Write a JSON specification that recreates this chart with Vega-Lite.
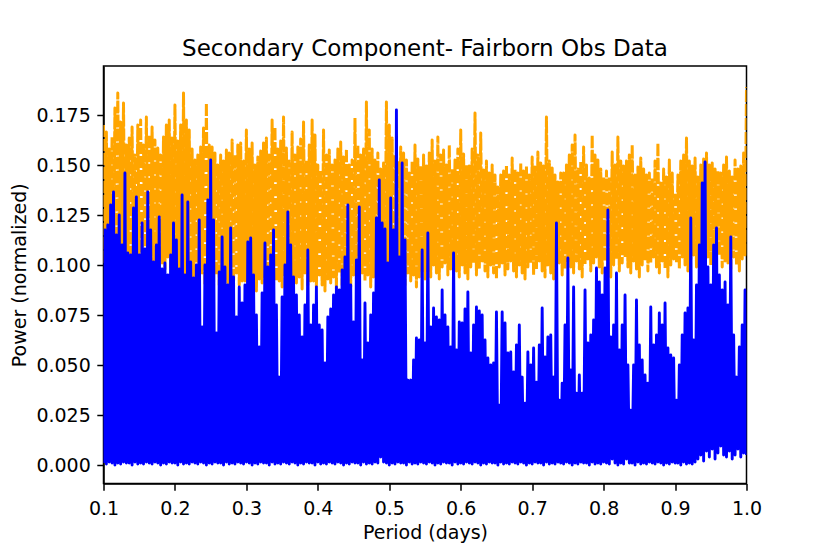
{
  "$schema": "https://vega.github.io/schema/vega-lite/v6.json",
  "width": 643,
  "height": 417.5,
  "autosize": "none",
  "padding": {"left": 103.5, "top": 66, "right": 83.5, "bottom": 70.5},
  "title": {
    "text": "Secondary Component- Fairborn Obs Data",
    "fontSize": 23,
    "fontWeight": "normal",
    "font": "DejaVu Sans",
    "color": "black",
    "anchor": "middle",
    "frame": "group",
    "baseline": "alphabetic",
    "offset": 11,
    "dy": 24
  },
  "datasets": {
    "blue": [
      {"p":0.100,"v":0.001},{"p":0.102,"v":0.1175},
      {"p":0.104,"v":0.0005},{"p":0.106,"v":0.12},
      {"p":0.108,"v":0.0015},{"p":0.110,"v":0.13},
      {"p":0.112,"v":0.001},{"p":0.114,"v":0.1365},
      {"p":0.116,"v":0.0},{"p":0.118,"v":0.115},
      {"p":0.120,"v":0.001},{"p":0.122,"v":0.125},
      {"p":0.124,"v":0.0005},{"p":0.126,"v":0.11},
      {"p":0.128,"v":0.0015},{"p":0.130,"v":0.146},
      {"p":0.132,"v":0.001},{"p":0.134,"v":0.106},
      {"p":0.136,"v":0.001},{"p":0.138,"v":0.105},
      {"p":0.140,"v":0.0},{"p":0.142,"v":0.1285},
      {"p":0.144,"v":0.0015},{"p":0.146,"v":0.134},
      {"p":0.148,"v":0.0005},{"p":0.150,"v":0.105},
      {"p":0.152,"v":0.001},{"p":0.154,"v":0.121},
      {"p":0.156,"v":0.0005},{"p":0.158,"v":0.108},
      {"p":0.160,"v":0.0015},{"p":0.162,"v":0.1365},
      {"p":0.164,"v":0.001},{"p":0.166,"v":0.1175},
      {"p":0.168,"v":0.0005},{"p":0.170,"v":0.1015},
      {"p":0.172,"v":0.0015},{"p":0.174,"v":0.11},
      {"p":0.176,"v":0.001},{"p":0.178,"v":0.124},
      {"p":0.180,"v":0.0},{"p":0.182,"v":0.098},
      {"p":0.184,"v":0.001},{"p":0.186,"v":0.101},
      {"p":0.188,"v":0.0005},{"p":0.190,"v":0.095},
      {"p":0.192,"v":0.0015},{"p":0.194,"v":0.105},
      {"p":0.196,"v":0.001},{"p":0.198,"v":0.121},
      {"p":0.200,"v":0.001},{"p":0.202,"v":0.1125},
      {"p":0.204,"v":0.0},{"p":0.206,"v":0.098},
      {"p":0.208,"v":0.0015},{"p":0.210,"v":0.135},
      {"p":0.212,"v":0.0005},{"p":0.214,"v":0.095},
      {"p":0.216,"v":0.001},{"p":0.218,"v":0.1315},
      {"p":0.220,"v":0.0005},{"p":0.222,"v":0.1015},
      {"p":0.224,"v":0.0015},{"p":0.226,"v":0.0935},
      {"p":0.228,"v":0.001},{"p":0.230,"v":0.1},
      {"p":0.232,"v":0.0005},{"p":0.234,"v":0.1225},
      {"p":0.236,"v":0.0015},{"p":0.238,"v":0.069},
      {"p":0.240,"v":0.001},{"p":0.242,"v":0.1},
      {"p":0.244,"v":0.0},{"p":0.246,"v":0.1325},
      {"p":0.248,"v":0.001},{"p":0.250,"v":0.1525},
      {"p":0.252,"v":0.0005},{"p":0.254,"v":0.1225},
      {"p":0.256,"v":0.0015},{"p":0.258,"v":0.066},
      {"p":0.260,"v":0.001},{"p":0.262,"v":0.0965},
      {"p":0.264,"v":0.001},{"p":0.266,"v":0.114},
      {"p":0.268,"v":0.0},{"p":0.270,"v":0.099},
      {"p":0.272,"v":0.0015},{"p":0.274,"v":0.09},
      {"p":0.276,"v":0.0005},{"p":0.278,"v":0.1185},
      {"p":0.280,"v":0.001},{"p":0.282,"v":0.094},
      {"p":0.284,"v":0.0005},{"p":0.286,"v":0.074},
      {"p":0.288,"v":0.0015},{"p":0.290,"v":0.089},
      {"p":0.292,"v":0.001},{"p":0.294,"v":0.081},
      {"p":0.296,"v":0.0005},{"p":0.298,"v":0.09},
      {"p":0.300,"v":0.0015},{"p":0.302,"v":0.1115},
      {"p":0.304,"v":0.001},{"p":0.306,"v":0.1135},
      {"p":0.308,"v":0.0},{"p":0.310,"v":0.095},
      {"p":0.312,"v":0.001},{"p":0.314,"v":0.075},
      {"p":0.316,"v":0.0005},{"p":0.318,"v":0.059},
      {"p":0.320,"v":0.0015},{"p":0.322,"v":0.086},
      {"p":0.324,"v":0.001},{"p":0.326,"v":0.111},
      {"p":0.328,"v":0.001},{"p":0.330,"v":0.099},
      {"p":0.332,"v":0.0},{"p":0.334,"v":0.105},
      {"p":0.336,"v":0.0015},{"p":0.338,"v":0.1175},
      {"p":0.340,"v":0.0005},{"p":0.342,"v":0.08},
      {"p":0.344,"v":0.001},{"p":0.346,"v":0.044},
      {"p":0.348,"v":0.0005},{"p":0.350,"v":0.084},
      {"p":0.352,"v":0.0015},{"p":0.354,"v":0.1},
      {"p":0.356,"v":0.001},{"p":0.358,"v":0.1265},
      {"p":0.360,"v":0.0005},{"p":0.362,"v":0.11},
      {"p":0.364,"v":0.0015},{"p":0.366,"v":0.094},
      {"p":0.368,"v":0.001},{"p":0.370,"v":0.085},
      {"p":0.372,"v":0.0},{"p":0.374,"v":0.075},
      {"p":0.376,"v":0.001},{"p":0.378,"v":0.064},
      {"p":0.380,"v":0.0005},{"p":0.382,"v":0.08},
      {"p":0.384,"v":0.0015},{"p":0.386,"v":0.1075},
      {"p":0.388,"v":0.001},{"p":0.390,"v":0.07},
      {"p":0.392,"v":0.001},{"p":0.394,"v":0.08},
      {"p":0.396,"v":0.0},{"p":0.398,"v":0.089},
      {"p":0.400,"v":0.0015},{"p":0.402,"v":0.07},
      {"p":0.404,"v":0.0005},{"p":0.406,"v":0.0675},
      {"p":0.408,"v":0.001},{"p":0.410,"v":0.051},
      {"p":0.412,"v":0.0005},{"p":0.414,"v":0.074},
      {"p":0.416,"v":0.0015},{"p":0.418,"v":0.078},
      {"p":0.420,"v":0.001},{"p":0.422,"v":0.085},
      {"p":0.424,"v":0.0005},{"p":0.426,"v":0.089},
      {"p":0.428,"v":0.0015},{"p":0.430,"v":0.0875},
      {"p":0.432,"v":0.001},{"p":0.434,"v":0.0975},
      {"p":0.436,"v":0.0},{"p":0.438,"v":0.104},
      {"p":0.440,"v":0.001},{"p":0.442,"v":0.13},
      {"p":0.444,"v":0.0005},{"p":0.446,"v":0.09},
      {"p":0.448,"v":0.0015},{"p":0.450,"v":0.0715},
      {"p":0.452,"v":0.001},{"p":0.454,"v":0.1025},
      {"p":0.456,"v":0.001},{"p":0.458,"v":0.129},
      {"p":0.460,"v":0.0},{"p":0.462,"v":0.0525},
      {"p":0.464,"v":0.0015},{"p":0.466,"v":0.081},
      {"p":0.468,"v":0.0005},{"p":0.470,"v":0.061},
      {"p":0.472,"v":0.001},{"p":0.474,"v":0.075},
      {"p":0.476,"v":0.0005},{"p":0.478,"v":0.086},
      {"p":0.480,"v":0.0015},{"p":0.482,"v":0.1235},
      {"p":0.484,"v":0.001},{"p":0.486,"v":0.1425},
      {"p":0.488,"v":0.004},{"p":0.490,"v":0.121},
      {"p":0.492,"v":0.0015},{"p":0.494,"v":0.118},
      {"p":0.496,"v":0.001},{"p":0.498,"v":0.101},
      {"p":0.500,"v":0.0},{"p":0.502,"v":0.1335},
      {"p":0.504,"v":0.001},{"p":0.506,"v":0.1175},
      {"p":0.508,"v":0.0005},{"p":0.510,"v":0.1775},
      {"p":0.512,"v":0.0015},{"p":0.514,"v":0.104},
      {"p":0.516,"v":0.001},{"p":0.518,"v":0.151},
      {"p":0.520,"v":0.001},{"p":0.522,"v":0.1125},
      {"p":0.524,"v":0.0},{"p":0.526,"v":0.0425},
      {"p":0.528,"v":0.0015},{"p":0.530,"v":0.0425},
      {"p":0.532,"v":0.0005},{"p":0.534,"v":0.0525},
      {"p":0.536,"v":0.001},{"p":0.538,"v":0.0635},
      {"p":0.540,"v":0.0005},{"p":0.542,"v":0.0625},
      {"p":0.544,"v":0.0015},{"p":0.546,"v":0.1075},
      {"p":0.548,"v":0.001},{"p":0.550,"v":0.061},
      {"p":0.552,"v":0.0005},{"p":0.554,"v":0.116},
      {"p":0.556,"v":0.0015},{"p":0.558,"v":0.069},
      {"p":0.560,"v":0.001},{"p":0.562,"v":0.0785},
      {"p":0.564,"v":0.0},{"p":0.566,"v":0.074},
      {"p":0.568,"v":0.001},{"p":0.570,"v":0.0725},
      {"p":0.572,"v":0.0005},{"p":0.574,"v":0.0875},
      {"p":0.576,"v":0.0015},{"p":0.578,"v":0.075},
      {"p":0.580,"v":0.001},{"p":0.582,"v":0.069},
      {"p":0.584,"v":0.001},{"p":0.586,"v":0.059},
      {"p":0.588,"v":0.0},{"p":0.590,"v":0.106},
      {"p":0.592,"v":0.0015},{"p":0.594,"v":0.0575},
      {"p":0.596,"v":0.0005},{"p":0.598,"v":0.0715},
      {"p":0.600,"v":0.001},{"p":0.602,"v":0.071},
      {"p":0.604,"v":0.0005},{"p":0.606,"v":0.078},
      {"p":0.608,"v":0.0015},{"p":0.610,"v":0.0865},
      {"p":0.612,"v":0.001},{"p":0.614,"v":0.056},
      {"p":0.616,"v":0.0005},{"p":0.618,"v":0.07},
      {"p":0.620,"v":0.0015},{"p":0.622,"v":0.079},
      {"p":0.624,"v":0.001},{"p":0.626,"v":0.077},
      {"p":0.628,"v":0.0},{"p":0.630,"v":0.075},
      {"p":0.632,"v":0.001},{"p":0.634,"v":0.0625},
      {"p":0.636,"v":0.0005},{"p":0.638,"v":0.0535},
      {"p":0.640,"v":0.0015},{"p":0.642,"v":0.05},
      {"p":0.644,"v":0.001},{"p":0.646,"v":0.051},
      {"p":0.648,"v":0.001},{"p":0.650,"v":0.0765},
      {"p":0.652,"v":0.0},{"p":0.654,"v":0.03},
      {"p":0.656,"v":0.0015},{"p":0.658,"v":0.0765},
      {"p":0.660,"v":0.0005},{"p":0.662,"v":0.071},
      {"p":0.664,"v":0.001},{"p":0.666,"v":0.056},
      {"p":0.668,"v":0.0005},{"p":0.670,"v":0.0565},
      {"p":0.672,"v":0.0015},{"p":0.674,"v":0.0465},
      {"p":0.676,"v":0.001},{"p":0.678,"v":0.06},
      {"p":0.680,"v":0.0005},{"p":0.682,"v":0.07},
      {"p":0.684,"v":0.0015},{"p":0.686,"v":0.044},
      {"p":0.688,"v":0.001},{"p":0.690,"v":0.031},
      {"p":0.692,"v":0.0},{"p":0.694,"v":0.0565},
      {"p":0.696,"v":0.001},{"p":0.698,"v":0.05},
      {"p":0.700,"v":0.0005},{"p":0.702,"v":0.0585},
      {"p":0.704,"v":0.0015},{"p":0.706,"v":0.0415},
      {"p":0.708,"v":0.001},{"p":0.710,"v":0.06},
      {"p":0.712,"v":0.001},{"p":0.714,"v":0.0785},
      {"p":0.716,"v":0.0},{"p":0.718,"v":0.054},
      {"p":0.720,"v":0.0015},{"p":0.722,"v":0.064},
      {"p":0.724,"v":0.0005},{"p":0.726,"v":0.065},
      {"p":0.728,"v":0.001},{"p":0.730,"v":0.044},
      {"p":0.732,"v":0.0005},{"p":0.734,"v":0.121},
      {"p":0.736,"v":0.0015},{"p":0.738,"v":0.0325},
      {"p":0.740,"v":0.001},{"p":0.742,"v":0.041},
      {"p":0.744,"v":0.0005},{"p":0.746,"v":0.07},
      {"p":0.748,"v":0.0015},{"p":0.750,"v":0.1035},
      {"p":0.752,"v":0.001},{"p":0.754,"v":0.0475},
      {"p":0.756,"v":0.0},{"p":0.758,"v":0.089},
      {"p":0.760,"v":0.001},{"p":0.762,"v":0.036},
      {"p":0.764,"v":0.0005},{"p":0.766,"v":0.045},
      {"p":0.768,"v":0.0015},{"p":0.770,"v":0.036},
      {"p":0.772,"v":0.001},{"p":0.774,"v":0.0875},
      {"p":0.776,"v":0.001},{"p":0.778,"v":0.061},
      {"p":0.780,"v":0.0},{"p":0.782,"v":0.065},
      {"p":0.784,"v":0.0015},{"p":0.786,"v":0.0725},
      {"p":0.788,"v":0.0005},{"p":0.790,"v":0.0985},
      {"p":0.792,"v":0.001},{"p":0.794,"v":0.0915},
      {"p":0.796,"v":0.0005},{"p":0.798,"v":0.085},
      {"p":0.800,"v":0.0015},{"p":0.802,"v":0.0985},
      {"p":0.804,"v":0.001},{"p":0.806,"v":0.1275},
      {"p":0.808,"v":0.0005},{"p":0.810,"v":0.064},
      {"p":0.812,"v":0.003},{"p":0.814,"v":0.07},
      {"p":0.816,"v":0.001},{"p":0.818,"v":0.096},
      {"p":0.820,"v":0.0},{"p":0.822,"v":0.0575},
      {"p":0.824,"v":0.001},{"p":0.826,"v":0.07},
      {"p":0.828,"v":0.0005},{"p":0.830,"v":0.085},
      {"p":0.832,"v":0.003},{"p":0.834,"v":0.05},
      {"p":0.836,"v":0.001},{"p":0.838,"v":0.0275},
      {"p":0.840,"v":0.001},{"p":0.842,"v":0.05},
      {"p":0.844,"v":0.0},{"p":0.846,"v":0.0825},
      {"p":0.848,"v":0.0015},{"p":0.850,"v":0.06},
      {"p":0.852,"v":0.0005},{"p":0.854,"v":0.0525},
      {"p":0.856,"v":0.001},{"p":0.858,"v":0.045},
      {"p":0.860,"v":0.0005},{"p":0.862,"v":0.041},
      {"p":0.864,"v":0.0015},{"p":0.866,"v":0.079},
      {"p":0.868,"v":0.001},{"p":0.870,"v":0.06},
      {"p":0.872,"v":0.0005},{"p":0.874,"v":0.065},
      {"p":0.876,"v":0.0015},{"p":0.878,"v":0.076},
      {"p":0.880,"v":0.001},{"p":0.882,"v":0.07},
      {"p":0.884,"v":0.0},{"p":0.886,"v":0.081},
      {"p":0.888,"v":0.001},{"p":0.890,"v":0.0585},
      {"p":0.892,"v":0.0005},{"p":0.894,"v":0.055},
      {"p":0.896,"v":0.0015},{"p":0.898,"v":0.0535},
      {"p":0.900,"v":0.001},{"p":0.902,"v":0.0325},
      {"p":0.904,"v":0.001},{"p":0.906,"v":0.05},
      {"p":0.908,"v":0.0},{"p":0.910,"v":0.065},
      {"p":0.912,"v":0.0015},{"p":0.914,"v":0.076},
      {"p":0.916,"v":0.0005},{"p":0.918,"v":0.0785},
      {"p":0.920,"v":0.001},{"p":0.922,"v":0.1235},
      {"p":0.924,"v":0.0005},{"p":0.926,"v":0.0625},
      {"p":0.928,"v":0.0015},{"p":0.930,"v":0.09},
      {"p":0.932,"v":0.003},{"p":0.934,"v":0.11},
      {"p":0.936,"v":0.005},{"p":0.938,"v":0.141},
      {"p":0.940,"v":0.002},{"p":0.942,"v":0.1515},
      {"p":0.944,"v":0.007},{"p":0.946,"v":0.099},
      {"p":0.948,"v":0.004},{"p":0.950,"v":0.09},
      {"p":0.952,"v":0.008},{"p":0.954,"v":0.11},
      {"p":0.956,"v":0.003},{"p":0.958,"v":0.1185},
      {"p":0.960,"v":0.006},{"p":0.962,"v":0.095},
      {"p":0.964,"v":0.0095},{"p":0.966,"v":0.0875},
      {"p":0.968,"v":0.005},{"p":0.970,"v":0.0915},
      {"p":0.972,"v":0.004},{"p":0.974,"v":0.08},
      {"p":0.976,"v":0.007},{"p":0.978,"v":0.114},
      {"p":0.980,"v":0.003},{"p":0.982,"v":0.065},
      {"p":0.984,"v":0.005},{"p":0.986,"v":0.044},
      {"p":0.988,"v":0.008},{"p":0.990,"v":0.059},
      {"p":0.992,"v":0.004},{"p":0.994,"v":0.07},
      {"p":0.996,"v":0.006},{"p":0.998,"v":0.0875},
      {"p":1.000,"v":0.005}
    ],
    "orange": [
      {"p":0.100,"v":0.17},{"p":0.102,"v":0.101},
      {"p":0.104,"v":0.1665},{"p":0.106,"v":0.098},
      {"p":0.108,"v":0.158},{"p":0.110,"v":0.104},
      {"p":0.112,"v":0.164},{"p":0.114,"v":0.099},
      {"p":0.116,"v":0.1785},{"p":0.118,"v":0.102},
      {"p":0.120,"v":0.186},{"p":0.122,"v":0.097},
      {"p":0.124,"v":0.1715},{"p":0.126,"v":0.105},
      {"p":0.128,"v":0.181},{"p":0.130,"v":0.1},
      {"p":0.132,"v":0.16},{"p":0.134,"v":0.099},
      {"p":0.136,"v":0.1635},{"p":0.138,"v":0.103},
      {"p":0.140,"v":0.169},{"p":0.142,"v":0.101},
      {"p":0.144,"v":0.155},{"p":0.146,"v":0.098},
      {"p":0.148,"v":0.17},{"p":0.150,"v":0.104},
      {"p":0.152,"v":0.1725},{"p":0.154,"v":0.099},
      {"p":0.156,"v":0.16},{"p":0.158,"v":0.102},
      {"p":0.160,"v":0.174},{"p":0.162,"v":0.097},
      {"p":0.164,"v":0.165},{"p":0.166,"v":0.105},
      {"p":0.168,"v":0.169},{"p":0.170,"v":0.1},
      {"p":0.172,"v":0.1625},{"p":0.174,"v":0.099},
      {"p":0.176,"v":0.1585},{"p":0.178,"v":0.103},
      {"p":0.180,"v":0.155},{"p":0.182,"v":0.101},
      {"p":0.184,"v":0.164},{"p":0.186,"v":0.098},
      {"p":0.188,"v":0.17},{"p":0.190,"v":0.104},
      {"p":0.192,"v":0.1725},{"p":0.194,"v":0.099},
      {"p":0.196,"v":0.1635},{"p":0.198,"v":0.102},
      {"p":0.200,"v":0.18},{"p":0.202,"v":0.092},
      {"p":0.204,"v":0.162},{"p":0.206,"v":0.089},
      {"p":0.208,"v":0.17},{"p":0.210,"v":0.095},
      {"p":0.212,"v":0.186},{"p":0.214,"v":0.09},
      {"p":0.216,"v":0.1725},{"p":0.218,"v":0.087},
      {"p":0.220,"v":0.1675},{"p":0.222,"v":0.093},
      {"p":0.224,"v":0.158},{"p":0.226,"v":0.091},
      {"p":0.228,"v":0.1525},{"p":0.230,"v":0.094},
      {"p":0.232,"v":0.155},{"p":0.234,"v":0.088},
      {"p":0.236,"v":0.159},{"p":0.238,"v":0.096},
      {"p":0.240,"v":0.1685},{"p":0.242,"v":0.09},
      {"p":0.244,"v":0.181},{"p":0.246,"v":0.092},
      {"p":0.248,"v":0.16},{"p":0.250,"v":0.092},
      {"p":0.252,"v":0.159},{"p":0.254,"v":0.089},
      {"p":0.256,"v":0.156},{"p":0.258,"v":0.095},
      {"p":0.260,"v":0.15},{"p":0.262,"v":0.09},
      {"p":0.264,"v":0.155},{"p":0.266,"v":0.087},
      {"p":0.268,"v":0.152},{"p":0.270,"v":0.093},
      {"p":0.272,"v":0.1575},{"p":0.274,"v":0.091},
      {"p":0.276,"v":0.156},{"p":0.278,"v":0.094},
      {"p":0.280,"v":0.1625},{"p":0.282,"v":0.088},
      {"p":0.284,"v":0.155},{"p":0.286,"v":0.096},
      {"p":0.288,"v":0.16},{"p":0.290,"v":0.09},
      {"p":0.292,"v":0.161},{"p":0.294,"v":0.092},
      {"p":0.296,"v":0.152},{"p":0.298,"v":0.092},
      {"p":0.300,"v":0.1675},{"p":0.302,"v":0.089},
      {"p":0.304,"v":0.158},{"p":0.306,"v":0.095},
      {"p":0.308,"v":0.161},{"p":0.310,"v":0.09},
      {"p":0.312,"v":0.15},{"p":0.314,"v":0.087},
      {"p":0.316,"v":0.154},{"p":0.318,"v":0.093},
      {"p":0.320,"v":0.157},{"p":0.322,"v":0.091},
      {"p":0.324,"v":0.161},{"p":0.326,"v":0.094},
      {"p":0.328,"v":0.1635},{"p":0.330,"v":0.088},
      {"p":0.332,"v":0.155},{"p":0.334,"v":0.096},
      {"p":0.336,"v":0.1725},{"p":0.338,"v":0.09},
      {"p":0.340,"v":0.169},{"p":0.342,"v":0.092},
      {"p":0.344,"v":0.158},{"p":0.346,"v":0.092},
      {"p":0.348,"v":0.162},{"p":0.350,"v":0.089},
      {"p":0.352,"v":0.174},{"p":0.354,"v":0.095},
      {"p":0.356,"v":0.1585},{"p":0.358,"v":0.09},
      {"p":0.360,"v":0.152},{"p":0.362,"v":0.087},
      {"p":0.364,"v":0.1665},{"p":0.366,"v":0.093},
      {"p":0.368,"v":0.155},{"p":0.370,"v":0.091},
      {"p":0.372,"v":0.159},{"p":0.374,"v":0.094},
      {"p":0.376,"v":0.163},{"p":0.378,"v":0.088},
      {"p":0.380,"v":0.1715},{"p":0.382,"v":0.096},
      {"p":0.384,"v":0.1525},{"p":0.386,"v":0.09},
      {"p":0.388,"v":0.16},{"p":0.390,"v":0.092},
      {"p":0.392,"v":0.1725},{"p":0.394,"v":0.092},
      {"p":0.396,"v":0.165},{"p":0.398,"v":0.089},
      {"p":0.400,"v":0.15},{"p":0.402,"v":0.095},
      {"p":0.404,"v":0.1475},{"p":0.406,"v":0.09},
      {"p":0.408,"v":0.1675},{"p":0.410,"v":0.087},
      {"p":0.412,"v":0.155},{"p":0.414,"v":0.093},
      {"p":0.416,"v":0.1575},{"p":0.418,"v":0.091},
      {"p":0.420,"v":0.15},{"p":0.422,"v":0.094},
      {"p":0.424,"v":0.1525},{"p":0.426,"v":0.088},
      {"p":0.428,"v":0.158},{"p":0.430,"v":0.096},
      {"p":0.432,"v":0.1615},{"p":0.434,"v":0.09},
      {"p":0.436,"v":0.154},{"p":0.438,"v":0.092},
      {"p":0.440,"v":0.158},{"p":0.442,"v":0.092},
      {"p":0.444,"v":0.15},{"p":0.446,"v":0.089},
      {"p":0.448,"v":0.1525},{"p":0.450,"v":0.095},
      {"p":0.452,"v":0.1735},{"p":0.454,"v":0.093},
      {"p":0.456,"v":0.16},{"p":0.458,"v":0.09},
      {"p":0.460,"v":0.155},{"p":0.462,"v":0.096},
      {"p":0.464,"v":0.158},{"p":0.466,"v":0.092},
      {"p":0.468,"v":0.1815},{"p":0.470,"v":0.095},
      {"p":0.472,"v":0.1675},{"p":0.474,"v":0.089},
      {"p":0.476,"v":0.158},{"p":0.478,"v":0.094},
      {"p":0.480,"v":0.1525},{"p":0.482,"v":0.097},
      {"p":0.484,"v":0.156},{"p":0.486,"v":0.093},
      {"p":0.488,"v":0.148},{"p":0.490,"v":0.09},
      {"p":0.492,"v":0.151},{"p":0.494,"v":0.096},
      {"p":0.496,"v":0.1815},{"p":0.498,"v":0.092},
      {"p":0.500,"v":0.17},{"p":0.502,"v":0.095},
      {"p":0.504,"v":0.1635},{"p":0.506,"v":0.089},
      {"p":0.508,"v":0.155},{"p":0.510,"v":0.094},
      {"p":0.512,"v":0.152},{"p":0.514,"v":0.097},
      {"p":0.516,"v":0.159},{"p":0.518,"v":0.093},
      {"p":0.520,"v":0.156},{"p":0.522,"v":0.09},
      {"p":0.524,"v":0.1525},{"p":0.526,"v":0.096},
      {"p":0.528,"v":0.146},{"p":0.530,"v":0.092},
      {"p":0.532,"v":0.152},{"p":0.534,"v":0.095},
      {"p":0.536,"v":0.16},{"p":0.538,"v":0.089},
      {"p":0.540,"v":0.153},{"p":0.542,"v":0.094},
      {"p":0.544,"v":0.1495},{"p":0.546,"v":0.097},
      {"p":0.548,"v":0.155},{"p":0.550,"v":0.093},
      {"p":0.552,"v":0.1495},{"p":0.554,"v":0.097},
      {"p":0.556,"v":0.156},{"p":0.558,"v":0.094},
      {"p":0.560,"v":0.1625},{"p":0.562,"v":0.1},
      {"p":0.564,"v":0.152},{"p":0.566,"v":0.096},
      {"p":0.568,"v":0.164},{"p":0.570,"v":0.093},
      {"p":0.572,"v":0.155},{"p":0.574,"v":0.099},
      {"p":0.576,"v":0.1575},{"p":0.578,"v":0.101},
      {"p":0.580,"v":0.15},{"p":0.582,"v":0.095},
      {"p":0.584,"v":0.16},{"p":0.586,"v":0.098},
      {"p":0.588,"v":0.148},{"p":0.590,"v":0.102},
      {"p":0.592,"v":0.1525},{"p":0.594,"v":0.097},
      {"p":0.596,"v":0.158},{"p":0.598,"v":0.094},
      {"p":0.600,"v":0.1675},{"p":0.602,"v":0.1},
      {"p":0.604,"v":0.1555},{"p":0.606,"v":0.096},
      {"p":0.608,"v":0.15},{"p":0.610,"v":0.093},
      {"p":0.612,"v":0.1495},{"p":0.614,"v":0.099},
      {"p":0.616,"v":0.158},{"p":0.618,"v":0.101},
      {"p":0.620,"v":0.176},{"p":0.622,"v":0.095},
      {"p":0.624,"v":0.155},{"p":0.626,"v":0.098},
      {"p":0.628,"v":0.166},{"p":0.630,"v":0.102},
      {"p":0.632,"v":0.1475},{"p":0.634,"v":0.097},
      {"p":0.636,"v":0.152},{"p":0.638,"v":0.094},
      {"p":0.640,"v":0.146},{"p":0.642,"v":0.1},
      {"p":0.644,"v":0.15},{"p":0.646,"v":0.096},
      {"p":0.648,"v":0.145},{"p":0.650,"v":0.093},
      {"p":0.652,"v":0.139},{"p":0.654,"v":0.099},
      {"p":0.656,"v":0.145},{"p":0.658,"v":0.101},
      {"p":0.660,"v":0.147},{"p":0.662,"v":0.095},
      {"p":0.664,"v":0.15},{"p":0.666,"v":0.098},
      {"p":0.668,"v":0.145},{"p":0.670,"v":0.102},
      {"p":0.672,"v":0.1535},{"p":0.674,"v":0.097},
      {"p":0.676,"v":0.148},{"p":0.678,"v":0.094},
      {"p":0.680,"v":0.146},{"p":0.682,"v":0.1},
      {"p":0.684,"v":0.151},{"p":0.686,"v":0.096},
      {"p":0.688,"v":0.147},{"p":0.690,"v":0.093},
      {"p":0.692,"v":0.1495},{"p":0.694,"v":0.099},
      {"p":0.696,"v":0.145},{"p":0.698,"v":0.101},
      {"p":0.700,"v":0.154},{"p":0.702,"v":0.095},
      {"p":0.704,"v":0.149},{"p":0.706,"v":0.098},
      {"p":0.708,"v":0.1565},{"p":0.710,"v":0.102},
      {"p":0.712,"v":0.151},{"p":0.714,"v":0.097},
      {"p":0.716,"v":0.1495},{"p":0.718,"v":0.094},
      {"p":0.720,"v":0.174},{"p":0.722,"v":0.1},
      {"p":0.724,"v":0.152},{"p":0.726,"v":0.096},
      {"p":0.728,"v":0.1485},{"p":0.730,"v":0.093},
      {"p":0.732,"v":0.145},{"p":0.734,"v":0.099},
      {"p":0.736,"v":0.1415},{"p":0.738,"v":0.101},
      {"p":0.740,"v":0.146},{"p":0.742,"v":0.095},
      {"p":0.744,"v":0.146},{"p":0.746,"v":0.098},
      {"p":0.748,"v":0.15},{"p":0.750,"v":0.102},
      {"p":0.752,"v":0.155},{"p":0.754,"v":0.099},
      {"p":0.756,"v":0.16},{"p":0.758,"v":0.096},
      {"p":0.760,"v":0.165},{"p":0.762,"v":0.102},
      {"p":0.764,"v":0.148},{"p":0.766,"v":0.098},
      {"p":0.768,"v":0.152},{"p":0.770,"v":0.094},
      {"p":0.772,"v":0.159},{"p":0.774,"v":0.1},
      {"p":0.776,"v":0.15},{"p":0.778,"v":0.103},
      {"p":0.780,"v":0.1435},{"p":0.782,"v":0.097},
      {"p":0.784,"v":0.165},{"p":0.786,"v":0.101},
      {"p":0.788,"v":0.155},{"p":0.790,"v":0.104},
      {"p":0.792,"v":0.1525},{"p":0.794,"v":0.099},
      {"p":0.796,"v":0.148},{"p":0.798,"v":0.096},
      {"p":0.800,"v":0.144},{"p":0.802,"v":0.102},
      {"p":0.804,"v":0.147},{"p":0.806,"v":0.098},
      {"p":0.808,"v":0.144},{"p":0.810,"v":0.094},
      {"p":0.812,"v":0.1565},{"p":0.814,"v":0.1},
      {"p":0.816,"v":0.15},{"p":0.818,"v":0.103},
      {"p":0.820,"v":0.164},{"p":0.822,"v":0.097},
      {"p":0.824,"v":0.152},{"p":0.826,"v":0.101},
      {"p":0.828,"v":0.1495},{"p":0.830,"v":0.104},
      {"p":0.832,"v":0.152},{"p":0.834,"v":0.099},
      {"p":0.836,"v":0.155},{"p":0.838,"v":0.096},
      {"p":0.840,"v":0.16},{"p":0.842,"v":0.102},
      {"p":0.844,"v":0.145},{"p":0.846,"v":0.098},
      {"p":0.848,"v":0.149},{"p":0.850,"v":0.094},
      {"p":0.852,"v":0.1535},{"p":0.854,"v":0.1},
      {"p":0.856,"v":0.148},{"p":0.858,"v":0.103},
      {"p":0.860,"v":0.145},{"p":0.862,"v":0.097},
      {"p":0.864,"v":0.146},{"p":0.866,"v":0.101},
      {"p":0.868,"v":0.1435},{"p":0.870,"v":0.104},
      {"p":0.872,"v":0.152},{"p":0.874,"v":0.099},
      {"p":0.876,"v":0.161},{"p":0.878,"v":0.096},
      {"p":0.880,"v":0.141},{"p":0.882,"v":0.102},
      {"p":0.884,"v":0.148},{"p":0.886,"v":0.098},
      {"p":0.888,"v":0.144},{"p":0.890,"v":0.094},
      {"p":0.892,"v":0.1525},{"p":0.894,"v":0.1},
      {"p":0.896,"v":0.146},{"p":0.898,"v":0.103},
      {"p":0.900,"v":0.136},{"p":0.902,"v":0.101},
      {"p":0.904,"v":0.145},{"p":0.906,"v":0.098},
      {"p":0.908,"v":0.152},{"p":0.910,"v":0.104},
      {"p":0.912,"v":0.155},{"p":0.914,"v":0.1},
      {"p":0.916,"v":0.1635},{"p":0.918,"v":0.097},
      {"p":0.920,"v":0.152},{"p":0.922,"v":0.103},
      {"p":0.924,"v":0.1495},{"p":0.926,"v":0.105},
      {"p":0.928,"v":0.1535},{"p":0.930,"v":0.099},
      {"p":0.932,"v":0.144},{"p":0.934,"v":0.102},
      {"p":0.936,"v":0.15},{"p":0.938,"v":0.101},
      {"p":0.940,"v":0.153},{"p":0.942,"v":0.098},
      {"p":0.944,"v":0.156},{"p":0.946,"v":0.104},
      {"p":0.948,"v":0.15},{"p":0.950,"v":0.1},
      {"p":0.952,"v":0.151},{"p":0.954,"v":0.097},
      {"p":0.956,"v":0.148},{"p":0.958,"v":0.103},
      {"p":0.960,"v":0.147},{"p":0.962,"v":0.105},
      {"p":0.964,"v":0.146},{"p":0.966,"v":0.099},
      {"p":0.968,"v":0.15},{"p":0.970,"v":0.102},
      {"p":0.972,"v":0.154},{"p":0.974,"v":0.101},
      {"p":0.976,"v":0.147},{"p":0.978,"v":0.098},
      {"p":0.980,"v":0.144},{"p":0.982,"v":0.104},
      {"p":0.984,"v":0.1525},{"p":0.986,"v":0.1},
      {"p":0.988,"v":0.148},{"p":0.990,"v":0.097},
      {"p":0.992,"v":0.1495},{"p":0.994,"v":0.103},
      {"p":0.996,"v":0.156},{"p":0.998,"v":0.105},
      {"p":1.000,"v":0.189}
    ]
  },
  "encoding": {
    "x": {
      "field": "p",
      "type": "quantitative",
      "scale": {"domain": [0.1, 1.0], "nice": false, "zero": false},
      "axis": {
        "values": [0.1, 0.2, 0.3, 0.4, 0.5, 0.6, 0.7, 0.8, 0.9, 1.0],
        "format": ".1f",
        "title": "Period (days)",
        "labelPadding": 9,
        "labelFlush": false,
        "titleBaseline": "alphabetic",
        "titleY": 54.5
      }
    },
    "y": {
      "field": "v",
      "type": "quantitative",
      "scale": {"domain": [-0.0092, 0.1995], "nice": false, "zero": false},
      "axis": {
        "values": [0, 0.025, 0.05, 0.075, 0.1, 0.125, 0.15, 0.175],
        "format": ".3f",
        "title": "Power (normalized)",
        "labelPadding": 6.5,
        "titleAngle": -90,
        "titleAlign": "center",
        "titleBaseline": "alphabetic",
        "titleX": -78.5,
        "titleY": 208.75
      }
    }
  },
  "layer": [
    {
      "data": {"name": "orange"},
      "mark": {"type": "line", "color": "#FFA500", "strokeWidth": 3, "strokeDash": [12, 2], "strokeJoin": "round", "clip": true}
    },
    {
      "data": {"name": "blue"},
      "mark": {"type": "line", "color": "#0000FF", "strokeWidth": 2.9, "strokeJoin": "round", "clip": true}
    }
  ],
  "config": {
    "font": "DejaVu Sans",
    "view": {"stroke": "black", "strokeWidth": 1.5},
    "axis": {
      "grid": false,
      "domainColor": "black",
      "domainWidth": 1.5,
      "tickColor": "black",
      "tickWidth": 1.5,
      "tickSize": 6.7,
      "labelColor": "black",
      "labelFont": "DejaVu Sans",
      "labelFontSize": 19,
      "titleColor": "black",
      "titleFont": "DejaVu Sans",
      "titleFontSize": 19,
      "titleFontWeight": "normal"
    }
  }
}
